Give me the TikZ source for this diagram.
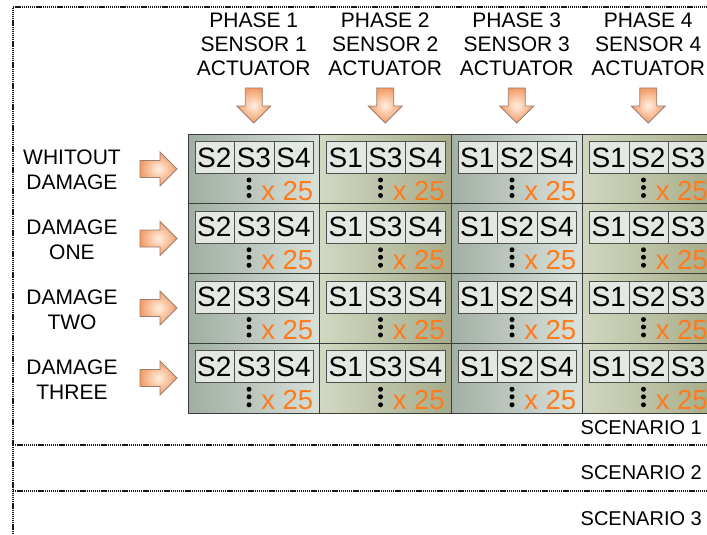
\documentclass[tikz,border=0pt]{standalone}
\usepackage{fontspec}
\setmainfont{Liberation Sans}
\definecolor{xorange}{HTML}{FF7A1C}
\definecolor{arrline}{HTML}{9A7E70}
\definecolor{gridline}{HTML}{3A3D3A}
\definecolor{sboxfill}{HTML}{E4E8E2}
\tikzset{
  scen/.style={draw=black!90, line width=1.4pt, dash pattern=on 1.3pt off 0.8pt},
  hdr/.style={align=center, font=\fontsize{21}{24}\selectfont, inner sep=0pt},
  lbl/.style={align=center, font=\fontsize{21}{25}\selectfont, inner sep=0pt},
  scenlbl/.style={anchor=east, font=\fontsize{20}{24}\selectfont, inner sep=0pt},
  blockarrow/.style={draw=arrline, line width=0.8pt, inner color=orange!12!white, outer color={rgb,255:red,243;green,155;blue,102}},
  cellbox/.style={draw=gridline, line width=0.9pt},
  sbox/.style={draw=gridline!90, line width=0.9pt, fill=sboxfill, minimum width=39.6pt, minimum height=32pt, inner sep=0pt, anchor=north west},
  stext/.style={font=\fontsize{28}{28}\selectfont, inner sep=0pt, anchor=base},
  mult/.style={font=\fontsize{27.5}{28}\selectfont, text=xorange, inner sep=0pt, anchor=base east},
}
\begin{document}
\begin{tikzpicture}[x=1pt,y=-1pt]
\useasboundingbox (0,0) rectangle (707,535);
% scenario frames
\draw[scen] (720,7) -- (13,7) -- (13,545);
\draw[scen] (13,445) -- (720,445);
\draw[scen] (13,491) -- (720,491);
\node[scenlbl] (sc1) at (702,428) {SCENARIO 1};
\node[scenlbl] (sc2) at (702,473) {SCENARIO 2};
\node[scenlbl] (sc3) at (702,519) {SCENARIO 3};
% column shadings
\shade[left color={rgb,255:red,160;green,174;blue,162}, right color={rgb,255:red,216;green,224;blue,216}] (188,134) rectangle (319.5,413);
\shade[left color={rgb,255:red,210;green,216;blue,194}, right color={rgb,255:red,166;green,172;blue,138}] (319.5,134) rectangle (451,413);
\shade[left color={rgb,255:red,163;green,176;blue,165}, right color={rgb,255:red,218;green,226;blue,220}] (451,134) rectangle (582.5,413);
\shade[left color={rgb,255:red,210;green,216;blue,192}, right color={rgb,255:red,166;green,172;blue,136}] (582.5,134) rectangle (714,413);
% headers
\foreach \c in {1,2,3,4}{
  \pgfmathsetmacro{\xc}{253.75+(\c-1)*131.5}
  \node[hdr] (h\c) at (\xc,44) {PHASE \c\\SENSOR \c\\ACTUATOR};
  \shadedraw[blockarrow, shift={(\xc,105.5)}] (-8.5,-17.5) -- (8.5,-17.5) -- (8.5,0.5) -- (17,0.5) -- (0,17.5) -- (-17,0.5) -- (-8.5,0.5) -- cycle;
}
% row labels
\node[lbl] (r1) at (72,170) {WHITOUT\\DAMAGE};
\node[lbl] (r2) at (72,240) {DAMAGE\\ONE};
\node[lbl] (r3) at (72,309.5) {DAMAGE\\TWO};
\node[lbl] (r4) at (72,379.5) {DAMAGE\\THREE};
\foreach \yc in {169,238.5,308,378}{
  \shadedraw[blockarrow, shift={(158.5,\yc)}] (-18.5,-8.5) -- (1.5,-8.5) -- (1.5,-17) -- (18.5,0) -- (1.5,17) -- (1.5,8.5) -- (-18.5,8.5) -- cycle;
}
% cells
\foreach \c/\la/\lb/\lc in {1/S2/S3/S4, 2/S1/S3/S4, 3/S1/S2/S4, 4/S1/S2/S3}{
  \foreach \r in {1,2,3,4}{
    \pgfmathsetmacro{\xo}{188+(\c-1)*131.5}
    \pgfmathsetmacro{\yo}{134+(\r-1)*69.75}
    \draw[cellbox] (\xo,\yo) rectangle ++(131.5,69.75);
    \node[sbox] (b\c\r a) at (\xo+6.5,\yo+7) {};
    \node[sbox] (b\c\r b) at (\xo+46.1,\yo+7) {};
    \node[sbox] (b\c\r c) at (\xo+85.7,\yo+7) {};
    \node[stext] (t\c\r a) at (\xo+26.3,\yo+33) {\la};
    \node[stext] (t\c\r b) at (\xo+65.9,\yo+33) {\lb};
    \node[stext] (t\c\r c) at (\xo+105.5,\yo+33) {\lc};
    \fill[black] (\xo+61,\yo+46) circle (2.5pt) (\xo+61,\yo+53.5) circle (2.5pt) (\xo+61,\yo+61.5) circle (2.5pt);
    \node[mult] (m\c\r) at (\xo+125.5,\yo+66) {x 25};
  }
}
\end{tikzpicture}
\end{document}
